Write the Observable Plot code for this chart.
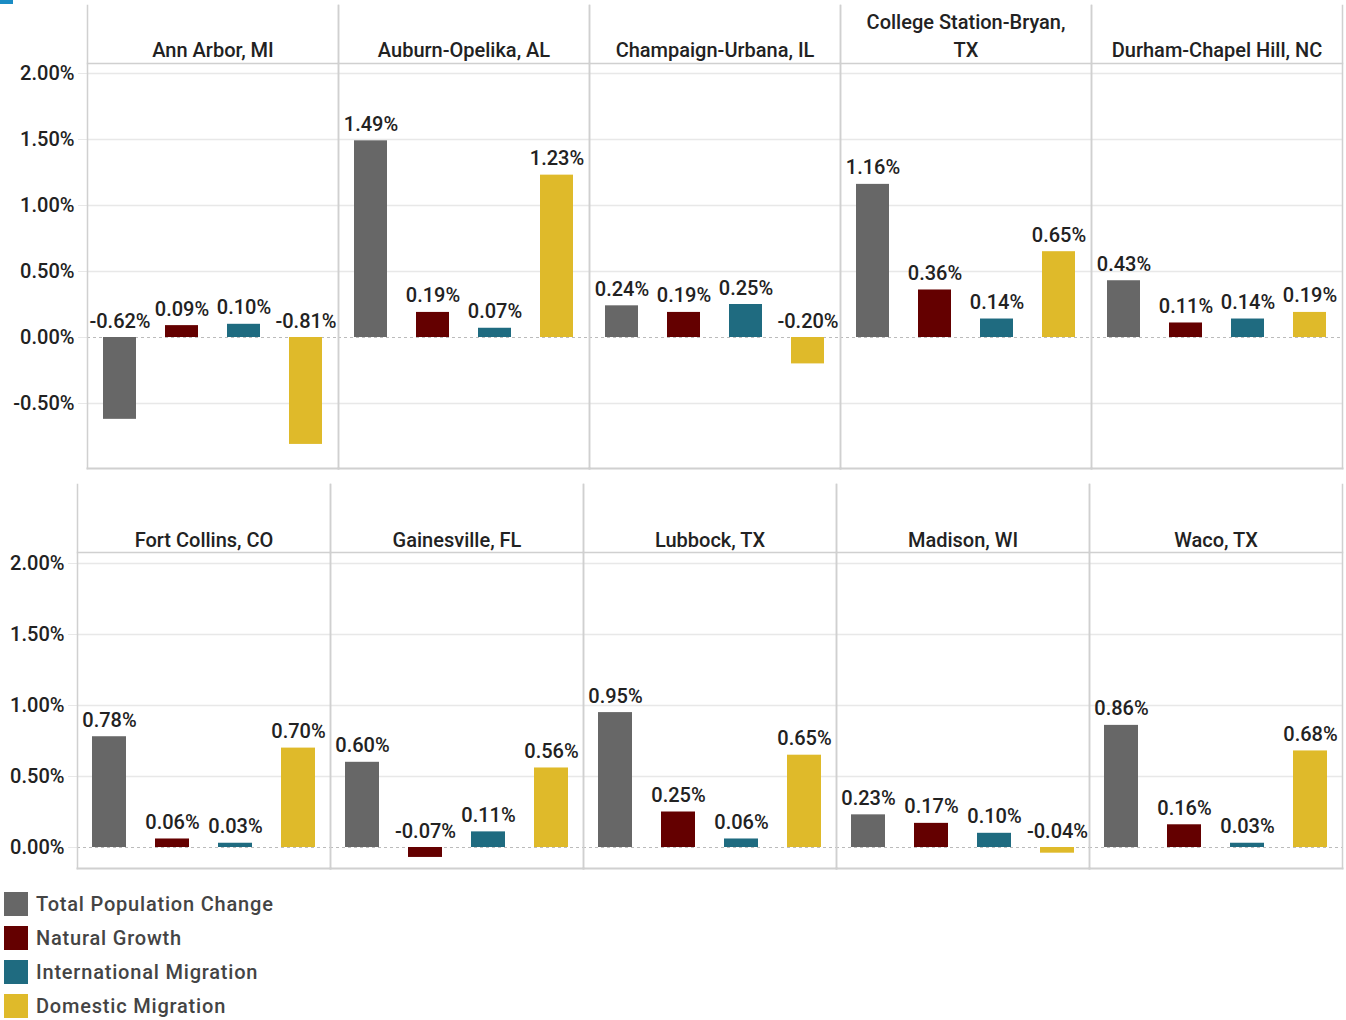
<!DOCTYPE html>
<html>
<head>
<meta charset="utf-8">
<script src="https://cdn.jsdelivr.net/npm/d3@7"></script>
<script src="https://cdn.jsdelivr.net/npm/@observablehq/plot@0.6"></script>
<style>
  body { margin: 0; background: #fff; font-family: Roboto, sans-serif; }
  #wrap { position: relative; width: 1346px; }
  #corner { position: absolute; left: 0; top: 0; width: 13px; height: 4px; background: #1a8cc4; }
  .legend { padding: 11px 0 0 4px; }
  .item { display: flex; align-items: center; height: 34px; font-size: 20px; color: #444; letter-spacing: 0.8px; font-weight: 500; }
  .sw { width: 24px; height: 24px; margin-right: 8px; }
  svg { display: block; }
</style>
</head>
<body>
<div id="wrap">
  <div id="corner"></div>
  <div id="row1"></div>
  <div id="row2"></div>
  <div class="legend" id="legend"></div>
</div>
<script>
// ---- data ----
const seriesNames = ["Total Population Change", "Natural Growth", "International Migration", "Domestic Migration"];
const seriesColors = ["#676767", "#640000", "#1f6b80", "#dfba2a"];

const metrosTop = ["Ann Arbor, MI", "Auburn-Opelika, AL", "Champaign-Urbana, IL", "College Station-Bryan, TX", "Durham-Chapel Hill, NC"];
const totalTop = [-0.62, 1.49, 0.24, 1.16, 0.43];
const naturalTop = [0.09, 0.19, 0.19, 0.36, 0.11];
const internationalTop = [0.10, 0.07, 0.25, 0.14, 0.14];
const domesticTop = [-0.81, 1.23, -0.20, 0.65, 0.19];

const metrosBottom = ["Fort Collins, CO", "Gainesville, FL", "Lubbock, TX", "Madison, WI", "Waco, TX"];
const totalBottom = [0.78, 0.60, 0.95, 0.23, 0.86];
const naturalBottom = [0.06, -0.07, 0.25, 0.17, 0.16];
const internationalBottom = [0.03, 0.11, 0.06, 0.10, 0.03];
const domesticBottom = [0.70, 0.56, 0.65, -0.04, 0.68];

const yTicks = [-0.5, 0, 0.5, 1.0, 1.5, 2.0];

const labelMap = {"College Station-Bryan, TX": "College Station-Bryan,\nTX"};

function rows(metros, series) {
  const out = [];
  metros.forEach((m, i) => {
    series.forEach((arr, j) => out.push({metro: m, series: seriesNames[j], value: arr[i]}));
  });
  return out;
}

const fmt = v => v.toFixed(2) + "%";

function makeRow(data, metros, opts) {
  return Plot.plot({
    width: 1346,
    height: opts.height,
    marginLeft: opts.marginLeft,
    marginRight: 3,
    marginTop: opts.marginTop,
    marginBottom: 8,
    style: {fontFamily: "Roboto, sans-serif", fontSize: "20px", color: "#222", background: "#fff"},
    fx: {domain: metros, padding: 0, label: null},
    x: {domain: seriesNames, paddingInner: opts.padding, paddingOuter: opts.padding / 2, axis: null},
    y: {domain: opts.yDomain, label: null},
    color: {domain: seriesNames, range: seriesColors},
    marks: [
      Plot.gridY(yTicks.filter(t => t !== 0), {stroke: "#e8e8e8", strokeOpacity: 1, strokeWidth: 1.5}),
      Plot.ruleY([0], {stroke: "#bbb", strokeDasharray: "3,3", strokeWidth: 1.2, insetLeft: 0}),
      Plot.axisY({ticks: yTicks, tickFormat: fmt, tickSize: 9, tickPadding: 4, stroke: "#e8e8e8", fontSize: 20, fontWeight: 500, label: null, color: "#222"}),
      Plot.axisFx({anchor: "top", tickSize: 0, tickPadding: opts.fxPad, fontSize: 20, fontWeight: 500, letterSpacing: 0.9, label: null, lineHeight: 1.4, tickFormat: d => labelMap[d] || d}),
      Plot.barY(data, {fx: "metro", x: "series", y: "value", fill: "series"}),
      Plot.frame({anchor: "left", insetTop: -opts.header, stroke: "#d0d0d0", strokeWidth: 1.5}),
      Plot.frame({anchor: "right", insetTop: -opts.header, stroke: "#d0d0d0", strokeWidth: 1.5}),
      Plot.frame({anchor: "top", stroke: "#d0d0d0", strokeWidth: 1.5}),
      Plot.frame({anchor: "bottom", stroke: "#d0d0d0", strokeWidth: 2}),
      Plot.text(data, {fx: "metro", x: "series", y: d => Math.max(0, d.value), text: d => fmt(d.value), lineAnchor: "bottom", dy: -10, fontSize: 20, fontWeight: 500, fill: "#222"})
    ]
  });
}

const topData = rows(metrosTop, [totalTop, naturalTop, internationalTop, domesticTop]);
const bottomData = rows(metrosBottom, [totalBottom, naturalBottom, internationalBottom, domesticBottom]);

document.getElementById("row1").append(makeRow(topData, metrosTop, {
  height: 476, marginLeft: 86, marginTop: 63, header: 58, padding: 0.46,
  yDomain: [-(468 - 337) / 132, (337 - 63) / 132], fxPad: 7
}));
document.getElementById("row2").append(makeRow(bottomData, metrosBottom, {
  height: 400, marginLeft: 76, marginTop: 76, header: 68, padding: 0.463,
  yDomain: [-(868 - 847) / 142, (847 - 552) / 142], fxPad: 6
}));

const legend = document.getElementById("legend");
seriesNames.forEach((s, i) => {
  const it = document.createElement("div");
  it.className = "item";
  const sw = document.createElement("div");
  sw.className = "sw";
  sw.style.background = seriesColors[i];
  const t = document.createElement("span");
  t.textContent = s;
  it.append(sw, t);
  legend.append(it);
});
</script>
</body>
</html>
